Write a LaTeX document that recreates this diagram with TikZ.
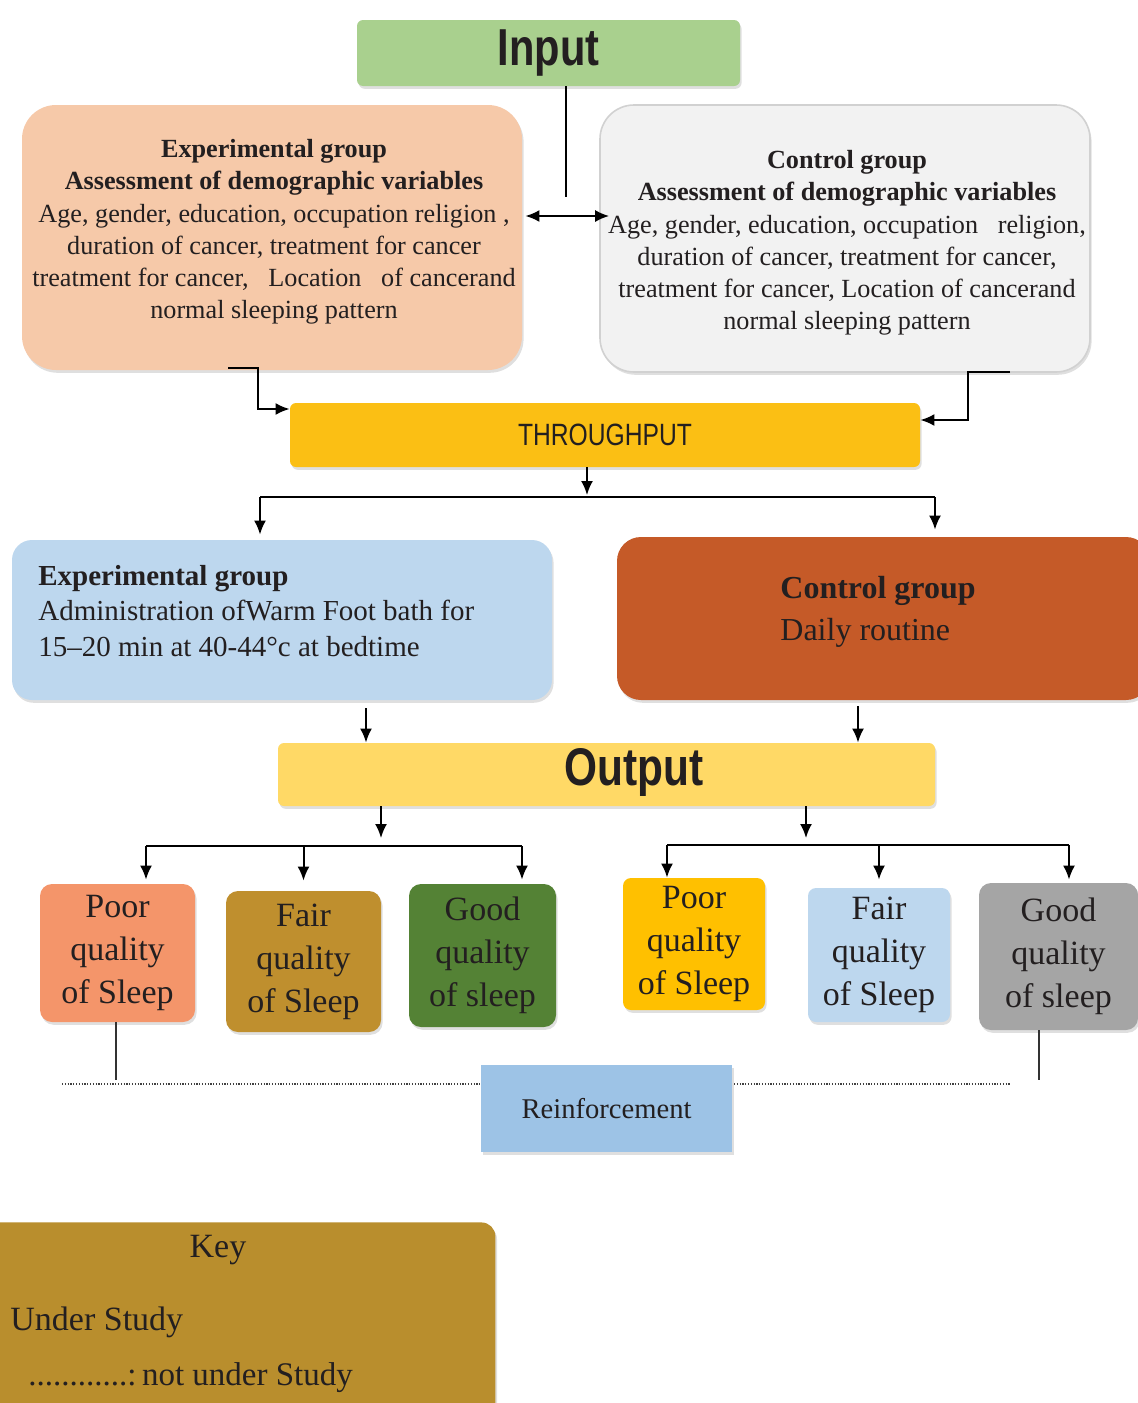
\documentclass[tikz,border=0pt]{standalone}
\usepackage{fontspec}
\setmainfont{Liberation Serif}
\newfontfamily\headfont[FakeStretch=0.8]{Liberation Sans}
\usetikzlibrary{shadows,arrows.meta}
\definecolor{inputgreen}{HTML}{A9D08E}
\definecolor{peach}{HTML}{F6C9A9}
\definecolor{lightgrey}{HTML}{F2F2F2}
\definecolor{gold}{HTML}{FBBF14}
\definecolor{paleblue}{HTML}{BDD7EE}
\definecolor{burnt}{HTML}{C55A28}
\definecolor{outyellow}{HTML}{FFD966}
\definecolor{salmon}{HTML}{F4956A}
\definecolor{ochre}{HTML}{BF8F2E}
\definecolor{leaf}{HTML}{548235}
\definecolor{amber}{HTML}{FFC000}
\definecolor{midgrey}{HTML}{A5A5A5}
\definecolor{reinblue}{HTML}{9DC3E6}
\definecolor{keygold}{HTML}{B98E2D}
\definecolor{ink}{HTML}{231F20}
\tikzset{
  shade box/.style={rectangle, inner sep=0pt, drop shadow={opacity=0.25, shadow xshift=0.8pt, shadow yshift=-1.4pt}},
  headtext/.style={font=\headfont\bfseries\fontsize{26}{28}\selectfont, text=ink},
  toptext/.style={font=\fontsize{13.1}{16.1}\selectfont, align=center, text=ink},
  midtext/.style={font=\fontsize{14.5}{17.75}\selectfont, align=left, text=ink, anchor=west, inner sep=0pt},
  qualtext/.style={font=\fontsize{17}{21.5}\selectfont, align=center, text=ink},
  conn/.style={line width=1pt, draw=black},
  arr/.style={conn, -{Latex[length=7pt,width=6pt]}},
  darr/.style={conn, {Latex[length=7pt,width=6pt]}-{Latex[length=7pt,width=6pt]}},
}
\begin{document}
\begin{tikzpicture}[x=0.5pt,y=-0.5pt]
\useasboundingbox (0,0) rectangle (1138,1403);
\clip (0,0) rectangle (1138,1403);

% ---------- Input ----------
\node[shade box, fill=inputgreen, rounded corners=3pt, minimum width=191.5pt, minimum height=33pt, headtext] (input) at (548.5,53) {Input};

% ---------- demographic boxes ----------
\node[shade box, fill=peach, rounded corners=17pt, minimum width=250pt, minimum height=132.5pt] (exp1) at (272,237.5) {};
\node[toptext] (exp1t) at (274,232) {\textbf{Experimental group}\\\textbf{Assessment of demographic variables}\\Age, gender, education, occupation religion ,\\duration of cancer, treatment for cancer\\treatment for cancer,\ \ \ Location\ \ \ of cancerand\\normal sleeping pattern};

\node[shade box, fill=lightgrey, draw=black!18, line width=0.8pt, rounded corners=17pt, minimum width=245pt, minimum height=133.5pt] (ctrl1) at (845,238.5) {};
\node[toptext] (ctrl1t) at (847,243) {\textbf{Control group}\\\textbf{Assessment of demographic variables}\\Age, gender, education, occupation\ \ \ religion,\\duration of cancer, treatment for cancer,\\treatment for cancer, Location of cancerand\\normal sleeping pattern};

\coordinate (inj) at (566,197);
\draw[conn] (input.south -| inj) -- (inj);
\coordinate (dbl) at (0,216);
\draw[darr] ([xshift=1.5pt]exp1.east |- dbl) -- ([xshift=5pt]ctrl1.west |- dbl);

% ---------- Throughput ----------
\node[shade box, fill=gold, rounded corners=3pt, minimum width=315pt, minimum height=32pt, font=\headfont\fontsize{15.4}{17}\selectfont, text=ink] (thr) at (605,435) {THROUGHPUT};

\coordinate (e1out) at (228,368);
\coordinate (e1bend) at (258,409);
\draw[arr] (e1out) -| (e1bend) -- (thr.west |- e1bend);
\coordinate (c1out) at (1010,372);
\coordinate (c1bend) at (968,420);
\draw[arr] (c1out) -| (c1bend) -- (thr.east |- c1bend);

\coordinate (tj) at (587,495);
\draw[arr] (thr.south -| tj) -- (tj);
\coordinate (tl) at (260,497);
\coordinate (tr) at (935,497);
\draw[conn] (tl) -- (tr);

% ---------- intervention boxes ----------
\node[shade box, fill=paleblue, rounded corners=10pt, minimum width=270pt, minimum height=80pt] (exp2) at (282,620) {};
\node[midtext] (exp2t) at (38,611) {\textbf{Experimental group}\\Administration ofWarm Foot bath for\\15–20 min at 40-44°c at bedtime};

\node[shade box, fill=burnt, rounded corners=12pt, minimum width=266.5pt, minimum height=81.5pt] (ctrl2) at (883.5,618.5) {};
\node[midtext, font=\fontsize{16}{21}\selectfont, text=ink] (ctrl2t) at (780,612) {\textbf{Control group}\\Daily routine};

\draw[arr] (tl) -- ([yshift=2.5pt]exp2.north -| tl);
\draw[arr] (tr) -- ([yshift=3.5pt]ctrl2.north -| tr);

% ---------- Output ----------
\node[shade box, fill=outyellow, rounded corners=3pt, minimum width=328.5pt, minimum height=31.5pt] (output) at (606.5,774.5) {};
\node[headtext, font=\headfont\bfseries\fontsize{26.5}{28}\selectfont] (outputt) at (634,772) {Output};

\coordinate (ox1) at (366,0);
\coordinate (ox2) at (858,0);
\draw[arr] ([yshift=-4pt]exp2.south -| ox1) -- (output.north -| ox1);
\draw[arr] ([yshift=-3pt]ctrl2.south -| ox2) -- (output.north -| ox2);

\coordinate (lj) at (381,838);
\coordinate (rj) at (806,838);
\draw[arr] (output.south -| lj) -- (lj);
\draw[arr] (output.south -| rj) -- (rj);

% ---------- quality boxes ----------
\node[shade box, fill=salmon, rounded corners=6pt, minimum width=77.5pt, minimum height=69pt, qualtext] (b1) at (117.5,953) {Poor\\quality\\of Sleep};
\node[shade box, fill=ochre, rounded corners=6pt, minimum width=77.5pt, minimum height=70.5pt, qualtext] (b2) at (303.5,961.5) {Fair\\quality\\of Sleep};
\node[shade box, fill=leaf, rounded corners=6pt, minimum width=73.5pt, minimum height=71.5pt, qualtext] (b3) at (482.5,955.5) {Good\\quality\\of sleep};
\node[shade box, fill=amber, rounded corners=4pt, minimum width=71pt, minimum height=66pt, qualtext] (b4) at (694,944) {Poor\\quality\\of Sleep};
\node[shade box, fill=paleblue, rounded corners=4pt, minimum width=71pt, minimum height=67pt, qualtext] (b5) at (879,955) {Fair\\quality\\of Sleep};
\node[shade box, fill=midgrey, rounded corners=6pt, minimum width=79.5pt, minimum height=73.5pt, qualtext] (b6) at (1058.5,956.5) {Good\\quality\\of sleep};

\coordinate (lh1) at (146,846);
\coordinate (lh2) at (522,846);
\draw[conn] (lh1) -- (lh2);
\draw[arr] (lh1) -- ([yshift=2pt]b1.north -| lh1);
\draw[arr] (lh1 -| b2) -- ([yshift=5pt]b2.north);
\draw[arr] (lh2) -- ([yshift=2pt]b3.north -| lh2);

\coordinate (rh1) at (667,845);
\coordinate (rh2) at (1069,845);
\draw[conn] (rh1) -- (rh2);
\draw[arr] (rh1) -- (b4.north -| rh1);
\draw[arr] (rh1 -| b5) -- ([yshift=4pt]b5.north);
\draw[arr] (rh2) -- ([yshift=1.5pt]b6.north -| rh2);

% ---------- reinforcement ----------
\coordinate (d1) at (62,1084);
\coordinate (d2) at (1010,1084);
\draw[black!75, line width=1.2pt, dash pattern=on 0.6pt off 0.8pt] (d1) -- (d2);
\coordinate (v1) at (116,1080);
\coordinate (v2) at (1039,1080);
\draw[conn, line width=0.8pt, black!80] (b1.south -| v1) -- (v1);
\draw[conn, line width=0.8pt, black!80] (b6.south -| v2) -- (v2);

\node[shade box, fill=reinblue, minimum width=125.5pt, minimum height=43.5pt, font=\fontsize{14.3}{16}\selectfont, text=ink] (rein) at (606.5,1108.5) {Reinforcement};

% ---------- key ----------
\node[shade box, fill=keygold, rounded corners=7pt, minimum width=255pt, minimum height=105pt, anchor=north west] (key) at (-15,1222) {};
\node[font=\fontsize{17}{20}\selectfont, text=ink] (keyt) at (218,1250) {Key};
\node[font=\fontsize{17}{20}\selectfont, text=ink, anchor=west, inner sep=0pt] (keyu) at (10,1322) {Under Study};
\node[font=\fontsize{16.5}{20}\selectfont, text=ink, anchor=west, inner sep=0pt] (keyn) at (28,1378) {............:\,not under Study};
\end{tikzpicture}
\end{document}
